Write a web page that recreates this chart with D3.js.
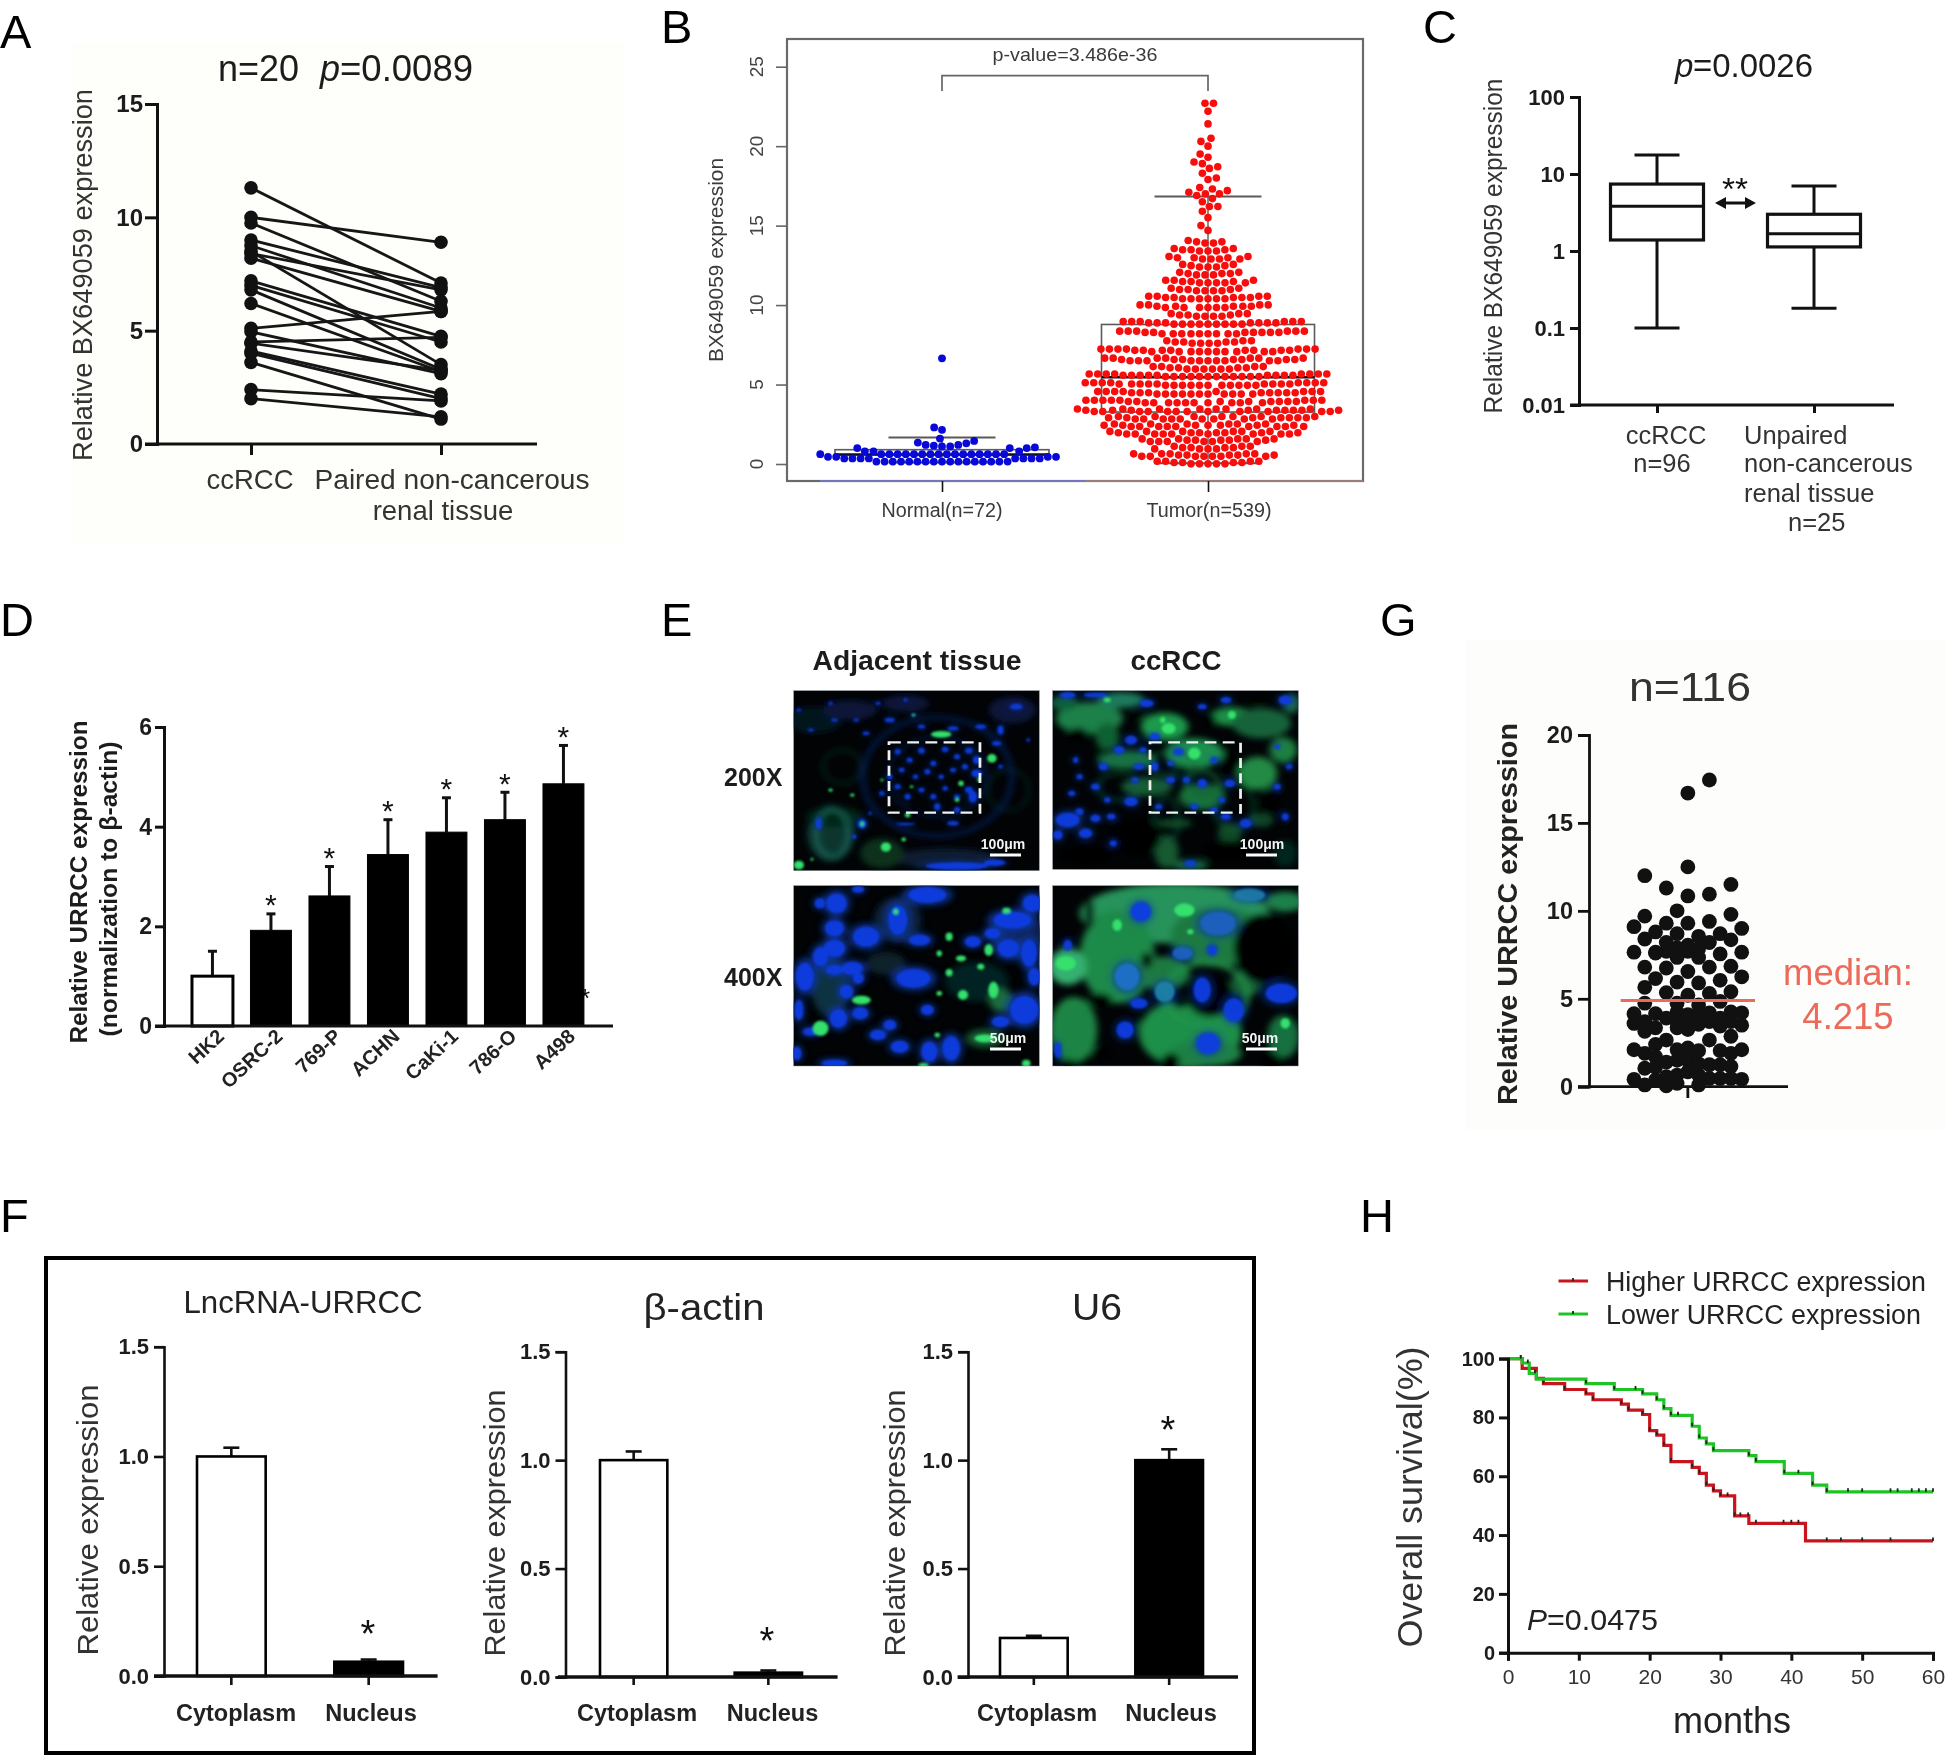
<!DOCTYPE html>
<html><head><meta charset="utf-8">
<style>html,body{margin:0;padding:0;background:#fff}svg{display:block;filter:blur(0.45px)}text{font-family:"Liberation Sans",Arial,sans-serif}</style>
<script src="https://cdnjs.cloudflare.com/ajax/libs/d3/7.8.5/d3.min.js"></script>
</head><body><svg id="c" width="1945" height="1755"></svg>
<script>
// ---------- Panel A
const aCats=["ccRCC","Paired"];
const aTumor=[11.3,10.0,9.75,9.0,8.75,8.5,8.4,8.2,7.2,7.0,6.8,6.2,5.1,4.95,4.5,4.45,4.1,4.0,3.6,2.4,2.0];
const aNormal=[7.1,8.9,6.3,6.9,6.0,3.5,6.8,5.85,4.75,4.5,3.3,3.2,5.85,3.1,4.7,3.25,2.2,2.0,1.1,1.9,1.2];
// ---------- Panel B (dot counts read row by row)
const bNormalLevels=[0.15,0.35,0.45,0.62,0.8,1.0,1.05,1.1,1.15,1.2,1.3,1.35,1.45,1.6,2.15,2.3,6.65];
const bNormalCounts=[17,8,4,17,3,3,1,2,1,2,1,1,1,1,1,1,1];
const bTumorLevels=[0.01,0.09,0.17, 0.48,0.56,0.64, 0.95,1.03,1.11, 1.42,1.5,1.58, 1.89,1.97,2.05, 2.36,2.44,2.52, 2.83,2.91,2.99, 3.3,3.38,3.46, 3.85,3.93,4.01, 4.4,4.48,4.56, 4.95,5.03,5.11, 5.5,5.58,5.66, 5.97,6.05,6.13, 6.5,6.58,6.66, 7.07,7.15,7.23, 7.6,7.68,7.76, 8.2,8.28,8.36, 8.8,8.88,8.96, 9.3,9.38,9.46, 9.85,9.93,10.01, 10.4,10.48,10.56, 10.9,10.98,11.06, 11.4,11.48,11.56, 11.9,11.98,12.06, 12.4,12.48,12.56, 12.9,12.98,13.06, 13.4,13.48,13.56, 13.9,13.98,14.06, 14.7,15.0,15.5,15.9,16.2,16.5,16.7,16.9,17.0,17.1,17.2,17.3,17.4,17.9,18.0,18.3,18.6,18.7,18.9,19.0,19.3,19.5,20.0,20.3,20.5,21.4,22.2,22.7];
const bTumorCounts=[5,4,4, 7,5,5, 4,4,3, 6,5,5, 9,7,6, 9,7,6, 9,7,7, 12,9,8, 10,8,8, 11,8,8, 11,9,8, 12,9,8, 6,4,4, 10,7,7, 10,8,7, 4,4,3, 9,7,6, 9,7,6, 4,3,3, 6,5,4, 6,5,4, 4,3,2, 5,3,3, 3,3,2, 3,2,2, 4,3,2, 3,3,2, 2,2,1, 1,1,1,1,2,1,1,1,2,1,1,1,1,1,1,1,1,1,1,1,1,1,1,1,1,1,1,2];
const bBoxes=[{q1:0.58,med:0.6,q3:0.9,lo:0.1,hi:1.67},{q1:3.27,med:5.46,q3:8.78,lo:0.04,hi:16.84}];
const bCats=["Normal(n=72)","Tumor(n=539)"];
// ---------- Panel C
const cCats=["ccRCC","Unpaired"];
const cBoxes=[{q1:1.39,med:3.8,q3:7.4,lo:0.1,hi:17.6},{q1:1.13,med:1.67,q3:3.0,lo:0.18,hi:7}];
const cTicks=[0.01,0.1,1,10,100];
// ---------- Panel D
const dCats=["HK2","OSRC-2","769-P","ACHN","CaKi-1","786-O","A498"];
const dVals=[1.0,1.92,2.61,3.44,3.89,4.14,4.86];
const dErrTop=[1.5,2.25,3.2,4.14,4.58,4.69,5.63];
// ---------- Panel F
const fCats=["Cytoplasm","Nucleus"];
const fVals=[[1.0,0.065],[1.0,0.02],[0.18,1.0]];
const fErrTop=[[1.04,0.075],[1.04,0.03],[0.19,1.05]];
const fTitles=["LncRNA-URRCC","β-actin","U6"];
// ---------- Panel G: value and column index of each dot
const gValues=[17.44,16.7,12.5,12.0,11.5,11.3,10.95,10.85,10.0,9.8,9.7,9.4,9.3,9.3,9.1,9.0,8.8,8.7,8.7,8.55,8.4,8.35,8.2,8.2,8.05,7.9,7.85,7.65,7.65,7.7,7.65,7.55,7.45,7.35,7.6,7.7,6.85,6.8,6.75,6.8,7.35,6.55,6.25,6.15,5.95,5.9,6.05,5.65,5.35,5.2,5.3,5.4,4.75,4.75,4.65,4.85,4.15,4.15,4.1,4.2,4.2,4.25,4.25,3.6,3.7,3.9,3.7,3.9,4.1,3.7,3.9,3.7,3.15,3.35,3.35,3.25,3.55,3.45,3.5,2.87,2.65,2.65,2.4,2.2,2.1,2.1,2.1,2.05,2.05,1.9,1.9,1.7,1.65,1.05,1.1,1.4,1.5,1.5,1.3,1.25,1.25,1.15,0.42,0.42,0.38,0.57,0.66,0.85,0.66,0.47,0.47,0.47,0.1,0.05,0.19,0.1];
const gSlots=[2,0,0,-4,4,-2,2,0,-1,4,-4,2,-2,0,-5,5,-3,3,-1,1,-4,4,-2,2,0,-1,1,-5,5,-2,-3,3,-1,1,-3,0,4,-4,-2,2,-1,0,5,-3,-1,1,3,-4,-2,0,2,4,-4,-1,1,3,-5,-3,0,2,5,4,-1,-5,-4,-2,-1,0,1,2,3,4,-4,-3,-1,0,1,3,5,4,2,-2,-3,0,-5,5,-1,1,3,4,-4,-3,0,-4,-3,-2,-1,0,1,2,3,4,-5,5,-3,-2,-1,0,1,2,3,4,-4,-2,-1,1];
const gTicks=[0,5,10,15,20];
// ---------- Panel H: step points [month, % surviving]
const hMonthsHigh=[0,2,4,5,8,11,12,16,17,19,20,21,22,23,26,27,28,29,30,32,34,42,60];
const hSurvHigh=[100,96.7,93.3,91.5,89.5,88,86,84.5,82.5,81,75.5,74,70.5,65,63,61,57,55,53.3,46.5,44,38,38];
const hMonthsLow=[0,2,3,4,11,15,19,21,22,23,26,27,28,29,34,35,39,43,45,60];
const hSurvLow=[100,98.5,95,93,91.5,89.5,88,86,83,80.7,77,73,71,68.7,67,65,61,57,54.7,54.7];
const hCensorHigh=[1.8,5,8,11,12,16,17,19,20,21,22,23,26,27,28,29,30,31,32,32.8,33.9,35,38.9,40,41,45,47,50,54,60];
const hCensorLow=[1.8,2.8,3.8,11,15,18,19,21,22,23,24,26,27,28,29,34,35,39,41,43,45,48,50,54,55,57,58,59,60];

const svg=d3.select("#c");
const INK="#1c1c1c", BLK="#111";
function T(x,y,s,o={}){
  const e=svg.append("text").attr("x",x).attr("y",y).text(s)
    .attr("font-size",o.size||20).attr("fill",o.fill||INK)
    .attr("text-anchor",o.anchor||"start");
  if(o.weight)e.attr("font-weight",o.weight);
  if(o.italic)e.attr("font-style","italic");
  if(o.rot!=null)e.attr("transform",`rotate(${o.rot} ${x} ${y})`);
  if(o.len){e.attr("textLength",o.len).attr("lengthAdjust","spacingAndGlyphs");}
  return e;
}
function L(x1,y1,x2,y2,w=3,c=BLK){return svg.append("line").attr("x1",x1).attr("y1",y1).attr("x2",x2).attr("y2",y2).attr("stroke",c).attr("stroke-width",w);}
function yAxis(x,scale,vals,o={}){
  const ax=d3.axisLeft(scale).tickValues(vals).tickSize(o.tick||10).tickPadding(o.pad||4).tickFormat(o.fmt||(d=>d));
  const g=svg.append("g").attr("transform",`translate(${x},0)`).call(ax);
  g.selectAll("path").attr("stroke",o.color||BLK).attr("stroke-width",o.w||3);
  g.selectAll("line").attr("stroke",o.color||BLK).attr("stroke-width",o.w||3);
  g.selectAll("text").attr("font-size",o.size||22).attr("font-weight",o.weight||"bold").attr("fill",o.fill||INK)
    .attr("font-family",'"Liberation Sans",Arial,sans-serif');
  return g;
}
function xTicks(y,scale,cats,len,w=3){
  const g=svg.append("g").attr("transform",`translate(0,${y})`).call(d3.axisBottom(scale).tickValues(cats).tickSize(len).tickFormat(""));
  g.select("path").remove();
  g.selectAll("line").attr("stroke",BLK).attr("stroke-width",w);
}
// faint paper tint behind the two raster panels
svg.append("rect").attr("x",71).attr("y",43).attr("width",554).attr("height",503).attr("fill","#fefefb");
svg.append("rect").attr("x",1466).attr("y",640).attr("width",479).attr("height",490).attr("fill","#fdfdfb");

// panel letters
[["A",0,48],["B",661,43],["C",1423,43],["D",0,636],["E",661,636],["G",1380,636],["F",0,1232],["H",1360,1232]]
 .forEach(d=>T(d[1],d[2],d[0],{size:47,fill:"#000"}));

// ===== A
(function(){
  const y=d3.scaleLinear().domain([0,15]).range([444,104]);
  const x=d3.scalePoint().domain(aCats).range([251,441]);
  aTumor.forEach((v,i)=>L(x("ccRCC"),y(v),x("Paired"),y(aNormal[i]),2.8,"#161616"));
  aCats.forEach((c,k)=>{
    svg.append("g").selectAll("circle").data(k?aNormal:aTumor).join("circle")
      .attr("cx",x(c)).attr("cy",d=>y(d)).attr("r",6.8).attr("fill","#111");
  });
  yAxis(157,y,[0,5,10,15],{tick:12,size:24,pad:2,w:3});
  L(145,444,537,444,3);
  xTicks(444,x,aCats,11);
  T(218,81,"n=20",{size:36});
  T(320,81,"p",{size:36,italic:true});
  T(340,81,"=0.0089",{size:36,len:133});
  T(92,275,"Relative BX649059 expression",{size:27,anchor:"middle",rot:-90,len:372,fill:"#333"});
  T(250,489,"ccRCC",{size:27.5,anchor:"middle",fill:"#333"});
  T(452,489,"Paired non-cancerous",{size:27,anchor:"middle",len:275,fill:"#333"});
  T(443,520,"renal tissue",{size:27.5,anchor:"middle",fill:"#333"});
})();

// ===== B
function swarm(vals,d,y,cx){
  const placed=[];let flip=1;
  vals.slice().sort((a,b)=>a-b).forEach(v=>{
    const py=y(v),near=placed.filter(p=>Math.abs(p.y-py)<d);
    const cand=[0];
    near.forEach(p=>{const dx=Math.sqrt(d*d-(p.y-py)*(p.y-py));cand.push(p.dx+dx,p.dx-dx);});
    const ok=cand.filter(c=>near.every(p=>(p.dx-c)*(p.dx-c)+(p.y-py)*(p.y-py)>=d*d-1e-6));
    ok.sort((a,b)=>(Math.abs(a)-Math.abs(b))||((b-a)*flip));
    flip=-flip;
    placed.push({dx:ok[0],y:py,x:cx+ok[0],v});
  });
  return placed;
}
(function(){
  const y=d3.scaleLinear().domain([0,25]).range([464,66.7]);
  const x=d3.scalePoint().domain(bCats).range([942,1208]);
  const GR="#5a5a5a";
  svg.append("rect").attr("x",787).attr("y",39).attr("width",576).attr("height",442).attr("fill","none").attr("stroke","#6a6a6a").attr("stroke-width",2.2);
  L(820,481,1085,481,1.6,"#7a7ad8");
  L(1085,481,1363,481,1.2,"#c89090");
  const expand=(ls,cs)=>ls.flatMap((l,i)=>d3.range(cs[i]).map(()=>l));
  const widths=[214,213],caps=[107,107];
  bBoxes.forEach((b,i)=>{
    const cx=x(bCats[i]);
    L(cx,y(b.hi),cx,y(b.q3),1.4,GR);L(cx,y(b.q1),cx,y(b.lo),1.4,GR);
    L(cx-caps[i]/2,y(b.hi),cx+caps[i]/2,y(b.hi),2,GR);L(cx-caps[i]/2,y(b.lo),cx+caps[i]/2,y(b.lo),2,GR);
    svg.append("rect").attr("x",cx-widths[i]/2).attr("width",widths[i]).attr("y",y(b.q3)).attr("height",y(b.q1)-y(b.q3)).attr("fill","none").attr("stroke",GR).attr("stroke-width",1.6);
    L(cx-widths[i]/2,y(b.med),cx+widths[i]/2,y(b.med),2.6,"#111");
  });
  const nPts=swarm(expand(bNormalLevels,bNormalCounts),8.2,y,x(bCats[0]));
  svg.append("g").selectAll("circle").data(nPts).join("circle").attr("cx",d=>d.x).attr("cy",d=>d.y).attr("r",3.9).attr("fill","#0808d8");
  const tPts=swarm(expand(bTumorLevels,bTumorCounts),8.5,y,x(bCats[1]));
  svg.append("g").selectAll("circle").data(tPts).join("circle").attr("cx",d=>d.x).attr("cy",d=>d.y).attr("r",3.8).attr("fill","#f80d0d");
  const g=svg.append("g").attr("transform","translate(787,0)").call(d3.axisLeft(y).tickValues([0,5,10,15,20,25]).tickSize(11).tickFormat(""));
  g.select("path").remove();g.selectAll("line").attr("stroke","#666").attr("stroke-width",1.6);
  [0,5,10,15,20,25].forEach(v=>T(763,y(v),v,{size:19,anchor:"middle",rot:-90,fill:"#444"}));
  xTicks(481,x,bCats,11,1.6);
  bCats.forEach((c,i)=>T(x(c)+(i?1:0),517,c,{size:19.5,anchor:"middle",fill:"#3a3a3a",len:i?125:121}));
  T(723,260,"BX649059 expression",{size:21,anchor:"middle",rot:-90,fill:"#3a3a3a",len:204});
  svg.append("path").attr("d",`M${x(bCats[0])},91V75.7H${x(bCats[1])}V91`).attr("fill","none").attr("stroke","#666").attr("stroke-width",1.7);
  T(1075,60.7,"p-value=3.486e-36",{size:18.5,anchor:"middle",fill:"#3a3a3a",len:165});
})();

// ===== C
(function(){
  const y=d3.scaleLog().domain([0.01,100]).range([405,97]);
  const x=d3.scalePoint().domain(cCats).range([1657,1814]);
  yAxis(1579,y,cTicks,{tick:9,size:22,pad:5,fmt:d=>String(d)});
  L(1570,405,1894,405,3);
  xTicks(405,x,cCats,8);
  const bw=93,cap=45;
  cBoxes.forEach((b,i)=>{
    const cx=x(cCats[i]);
    L(cx,y(b.hi),cx,y(b.q3),3);L(cx,y(b.q1),cx,y(b.lo),3);
    L(cx-cap/2,y(b.hi),cx+cap/2,y(b.hi),3);L(cx-cap/2,y(b.lo),cx+cap/2,y(b.lo),3);
    svg.append("rect").attr("x",cx-bw/2).attr("y",y(b.q3)).attr("width",bw).attr("height",y(b.q1)-y(b.q3)).attr("fill","#fff").attr("stroke",BLK).attr("stroke-width",3.2);
    L(cx-bw/2,y(b.med),cx+bw/2,y(b.med),3);
  });
  L(1722,203,1749,203,3);
  svg.append("path").attr("d","M1715,203l11,-6v12zM1756,203l-11,-6v12z").attr("fill",BLK);
  T(1735,200,"**",{size:32,anchor:"middle",fill:"#111",len:26});
  T(1675,77,"p",{size:33,italic:true});
  T(1693,77,"=0.0026",{size:33,len:120});
  T(1502,246,"Relative BX649059 expression",{size:25,anchor:"middle",rot:-90,len:335,fill:"#333"});
  T(1666,444,"ccRCC",{size:25.5,anchor:"middle",fill:"#333"});
  T(1662,472,"n=96",{size:25.5,anchor:"middle",fill:"#333"});
  T(1744,444,"Unpaired",{size:25.5,fill:"#333"});
  T(1744,472,"non-cancerous",{size:25.5,fill:"#333"});
  T(1744,502,"renal tissue",{size:25.5,fill:"#333"});
  T(1788,531,"n=25",{size:25.5,fill:"#333"});
})();

// ===== D
(function(){
  const y=d3.scaleLinear().domain([0,6]).range([1026,727]);
  const x=d3.scaleBand().domain(dCats).range([183.2,592.7]).paddingInner(0.3).paddingOuter(0.15);
  T(585,1007,"*",{size:26,anchor:"middle",fill:"#111"});
  dCats.forEach((c,i)=>{
    const cx=x(c)+x.bandwidth()/2;
    L(cx,y(dVals[i]),cx,y(dErrTop[i]),3);
    L(cx-4.5,y(dErrTop[i]),cx+4.5,y(dErrTop[i]),3);
    svg.append("rect").attr("x",x(c)).attr("y",y(dVals[i])).attr("width",x.bandwidth()).attr("height",y(0)-y(dVals[i]))
      .attr("fill",i?"#000":"#fff").attr("stroke","#000").attr("stroke-width",i?1:3);
    if(i)T(cx,y(dErrTop[i])+1.5,"*",{size:30,anchor:"middle",fill:"#111"});
    T(cx+13,1038,c,{size:20,anchor:"end",weight:"bold",rot:-43,fill:"#222"});
  });
  yAxis(164,y,[0,2,4,6],{tick:9,size:23,pad:3});
  L(155,1026,613,1026,3);
  T(87,882,"Relative URRCC expression",{size:24.5,anchor:"middle",rot:-90,weight:"bold",len:323});
  T(117,889,"(normalization to β-actin)",{size:24,anchor:"middle",rot:-90,weight:"bold",len:295});
})();

// ===== E  micrographs: blob lists are [cx,cy,rx,ry,colour] in a local drawing frame
const ePanels=[
 {x:237,y:212,w:621,h:540,halo:0.35,
  dim:[[330,640,60,85,"#08342e"],[290,300,70,40,"#06121f"],[620,715,130,30,"#081f30"],[460,700,55,45,"#08301c"],[340,590,70,30,"#062818"],[790,270,60,40,"#07143a"],[380,270,70,30,"#071238"],[520,250,60,25,"#07123a"]],
  rings:[[600,470,188,178,"#0d2c80",7],[600,470,125,120,"#0a1f60",5],[360,440,48,50,"#0b3320",6],[335,640,42,72,"#1c6a5c",9],[780,510,52,62,"#092c20",6]],
  blue:[[500,395,8,8],[530,420,8,8],[560,392,9,9],[590,430,8,8],[620,388,9,8],[650,410,8,8],[680,392,10,9],[510,450,8,7],[545,470,7,7],[575,455,8,8],[610,470,7,7],[640,450,8,7],[670,440,8,8],[700,420,10,12],[500,500,8,8],[525,530,8,9],[560,510,8,7],[590,530,8,8],[620,505,7,7],[650,530,8,7],[680,510,10,10],[600,560,8,11],[650,570,8,9],[480,470,7,8],[460,520,7,7],[640,325,14,7],[710,320,14,7],[560,320,10,6],[750,370,12,7],[700,460,14,12],[690,530,11,18],[640,610,15,7],[520,612,25,4],[760,330,8,14],[800,260,16,9],[480,300,13,7],[420,340,9,6],[395,300,7,5],[340,300,8,5],[280,330,7,5],[250,270,6,5],[330,250,6,5],[450,250,7,5],[520,240,6,5],[540,285,6,5],[410,612,12,15],[300,610,8,18],[390,650,6,7],[650,738,80,12],[745,728,28,10],[430,580,5,5],[760,440,6,6],[830,360,5,5]],
  green:[[610,343,26,10],[738,415,12,13],[470,681,13,14],[410,612,5,8],[250,735,13,13],[660,490,7,8],[525,585,7,7],[330,510,6,5],[385,525,6,5],[515,658,6,6],[283,718,4,4],[540,285,4,4],[460,480,4,4],[535,500,5,4],[705,480,4,6],[650,540,6,6]]},
 {x:892,y:212,w:621,h:536,halo:0.6,
  dim:[[985,295,85,48,"#1d8048"],[1175,320,60,42,"#1f9a4c"],[1345,290,55,28,"#1b8f46"],[1250,400,75,45,"#1e8f4e"],[1410,460,50,50,"#218a45"],[1270,530,60,40,"#186a36"],[1475,390,35,38,"#1c8040"],[1180,695,30,50,"#135a30"],[1240,735,45,18,"#17653a"],[1080,420,75,28,"#197240"],[1065,240,60,24,"#1c7a5c"],[1420,310,75,45,"#15643a"],[1130,500,65,28,"#135c34"],[1030,350,30,40,"#116030"],[1200,610,45,14,"#0f4a28"],[1340,640,30,32,"#0e4a28"],[1420,600,30,22,"#0d4526"],[1495,250,22,30,"#1a6a50"],[920,250,35,22,"#10603a"],[1480,700,30,40,"#06261c"]],
  rings:[[1270,500,42,47,"#17803c",8],[1350,560,50,70,"#116030",6],[1190,430,60,35,"#146a3a",6],[1060,500,55,40,"#10602f",6],[1180,600,30,70,"#105030",7]],
  black:[[1290,300,16,18],[1110,285,20,12],[1340,430,22,40],[955,345,28,22],[1410,240,22,15],[1445,545,24,42],[1100,650,65,60],[975,705,70,30],[1335,695,65,32],[1215,450,20,14],[1130,365,10,14],[1010,395,10,12]],
  blue:[[930,225,20,9],[1000,225,30,7],[1130,250,17,11],[1090,360,15,13],[1060,390,13,11],[1110,440,13,9],[1020,440,11,11],[950,420,7,9],[960,470,8,8],[1000,500,11,9],[940,520,9,8],[1090,545,17,13],[930,600,30,22],[975,640,17,14],[1000,595,13,11],[1040,590,11,9],[1045,670,9,9],[1150,440,9,13],[1190,480,11,9],[1230,480,9,9],[1270,490,11,13],[1340,490,13,11],[1300,420,9,9],[1210,395,13,11],[1150,350,13,11],[1380,610,15,13],[1330,590,13,9],[1480,590,9,11],[1490,440,8,8],[1460,380,7,7],[1250,560,9,9],[1300,570,9,8],[1240,730,14,9],[1330,240,14,9],[1480,240,17,13],[1270,260,11,8],[1160,560,9,8],[1460,500,9,9],[1100,480,8,8],[905,645,12,14],[960,575,10,10],[1030,540,8,8],[1120,390,9,8],[1190,430,8,8],[1320,540,8,8]],
  green:[[1185,325,18,16],[1345,285,10,12],[1250,400,16,18],[1030,240,9,7],[1170,300,7,9]]},
 {x:237,y:797,w:621,h:541,halo:0.8,
  dim:[[330,1100,50,90,"#0a3040"],[700,1085,80,60,"#062420"],[760,1140,30,35,"#1a6a40"],[720,1255,48,28,"#125a30"],[470,1030,50,35,"#08202a"],[500,900,60,70,"#08203a"],[800,950,70,70,"#0a2050"]],
  rings:[],
  blue:[[345,850,26,30],[303,850,13,15],[575,825,48,24],[400,808,15,10],[500,900,24,44],[340,925,24,24],[420,950,33,30],[555,960,27,16],[690,965,20,16],[340,985,27,26],[305,1010,19,29],[780,985,27,27],[790,900,48,26],[740,940,20,16],[840,850,24,26],[265,1070,23,42],[340,1050,22,15],[385,1045,27,20],[540,1075,43,28],[400,1075,14,16],[370,1115,17,21],[832,1000,20,40],[820,1170,36,42],[350,1195,22,28],[405,1180,20,18],[480,1215,16,15],[250,1170,11,30],[505,1280,22,18],[450,1245,20,15],[580,1295,20,30],[635,1285,22,36],[340,1330,32,11],[245,1300,11,20],[575,1170,16,15],[760,1205,22,16],[280,1235,20,12],[845,1070,15,26]],
  green:[[730,990,11,18],[742,1110,13,25],[408,1140,24,13],[305,1225,20,23],[660,1015,13,9],[775,872,11,9],[630,950,9,13],[605,1000,7,9],[630,1058,9,11],[710,1040,9,9],[665,1125,13,15],[720,1255,26,12],[600,1245,7,7],[565,1335,14,6],[825,1330,11,11],[495,875,7,9],[605,1120,7,7]]},
 {x:892,y:797,w:621,h:541,halo:0.5,
  dim:[[1200,880,240,90,"#25935a"],[1055,1010,95,140,"#1d8a48"],[1240,1240,130,105,"#1f8f48"],[945,1230,60,100,"#1c8544"],[1310,950,120,90,"#1a7a40"],[930,1040,48,55,"#36b070"],[1475,1250,40,65,"#157040"],[1170,1060,70,50,"#1a7a40"],[1380,1090,38,40,"#146035"],[1480,845,50,30,"#1c8048"],[1280,1300,90,40,"#1a8044"]],
  rings:[[1280,1125,105,95,"#23944c",12]],
  black:[[1425,985,75,105],[985,880,11,46],[1130,1020,14,24],[1215,1150,20,14],[925,955,18,18],[1010,1140,32,20],[1290,1130,60,60],[1015,1300,28,20],[930,1330,25,12],[1445,1325,28,25],[1190,1325,24,25],[1100,1210,14,14]],
  blue:[[1115,875,26,30],[1310,910,45,36,"#1a60c0"],[1080,1070,31,40,"#1d70c8"],[1175,1115,26,31,"#1f80a8"],[1270,1110,22,38],[1350,1170,26,36],[1110,1150,22,16],[1285,1270,30,32],[1470,1120,40,30],[1390,825,40,20,"#1a78a8"],[1220,1000,26,20,"#1a60c0"],[1295,990,13,16],[1075,1230,22,26],[930,975,11,16],[905,1290,9,24]],
  green:[[1225,870,26,20],[1240,935,8,8],[925,1030,26,22],[1055,915,12,18],[1480,1210,12,16]]}
];
(function(){
  const defs=svg.append("defs");
  [["b1",3],["b2",9]].forEach(f=>defs.append("filter").attr("id",f[0]).attr("x","-30%").attr("y","-30%").attr("width","160%").attr("height","160%")
    .append("feGaussianBlur").attr("stdDeviation",f[1]));
  const root=svg.append("g").attr("transform",`translate(700,620) scale(${1/2.529},${1/3})`);
  const ell=(g,a,col,op)=>g.selectAll(null).data(a).join("ellipse").attr("cx",d=>d[0]).attr("cy",d=>d[1]).attr("rx",d=>d[2]).attr("ry",d=>d[3]).attr("fill",d=>d[4]||col).attr("opacity",op||1);
  ePanels.forEach((p,i)=>{
    defs.append("clipPath").attr("id","ec"+i).append("rect").attr("x",p.x).attr("y",p.y).attr("width",p.w).attr("height",p.h);
    root.append("rect").attr("x",p.x).attr("y",p.y).attr("width",p.w).attr("height",p.h).attr("fill","#010305").attr("stroke","#8a9098").attr("stroke-width",1.5);
    const g=root.append("g").attr("clip-path",`url(#ec${i})`);
    const h=g.append("g").attr("filter","url(#b2)");
    ell(h,p.dim,"#1a7a40");
    h.selectAll(null).data(p.rings).join("ellipse").attr("cx",d=>d[0]).attr("cy",d=>d[1]).attr("rx",d=>d[2]).attr("ry",d=>d[3]).attr("fill","none").attr("stroke",d=>d[4]).attr("stroke-width",d=>d[5]);
    if(p.black)ell(h,p.black,"#010305");
    // soft glow round the nuclei
    h.selectAll(null).data(p.blue).join("ellipse").attr("cx",d=>d[0]).attr("cy",d=>d[1]).attr("rx",d=>d[2]*1.35).attr("ry",d=>d[3]*1.35).attr("fill","#0c3aa0").attr("opacity",p.halo);
    const t=g.append("g").attr("filter","url(#b1)");
    ell(t,p.blue,"#0c3ce0",.95);
    ell(t,p.green,"#34e06c");
  });
  // dashed selection boxes
  [[478,367,230,211],[1138,367,229,211]].forEach(r=>root.append("rect").attr("x",r[0]).attr("y",r[1]).attr("width",r[2]).attr("height",r[3]).attr("fill","none").attr("stroke","#eef2ee").attr("stroke-width",7).attr("stroke-dasharray","30 16"));
  // scale bars
  [[1003,849,990,1021,855,"100μm"],[1262,849,1246,1277,855,"100μm"],[1008,1043,990,1021,1049,"50μm"],[1260,1043,1246,1277,1049,"50μm"]].forEach(s=>{
    T(s[0],s[1],s[5],{size:14,anchor:"middle",fill:"#f4f4f4",weight:"bold"});
    L(s[2],s[4],s[3],s[4],3,"#fff");
  });
  T(917,670,"Adjacent tissue",{size:28,anchor:"middle",weight:"bold",len:209});
  T(1176,670,"ccRCC",{size:28,anchor:"middle",weight:"bold",len:91});
  T(724,786,"200X",{size:25,weight:"bold"});
  T(724,986,"400X",{size:25,weight:"bold"});
})();

// ===== F
(function(){
  svg.append("rect").attr("x",46).attr("y",1258).attr("width",1208).attr("height",495).attr("fill","#fff").attr("stroke","#000").attr("stroke-width",4);
  const P=[
   {ax:164,y0:1676,y15:1346.7,r:437.6,b0:197,bw:206,lt:154,lab:[236,371],titleX:303,titleY:1313,tsize:31,tlen:239,ylx:98,yly:1520,yll:271,sx:368,sy:1647},
   {ax:565.5,y0:1677,y15:1351.7,r:837.6,b0:600,bw:202,lt:558,lab:[637,772.5],titleX:704,titleY:1320,tsize:37,tlen:121,ylx:505,yly:1523,yll:267,sx:767,sy:1654},
   {ax:968,y0:1677,y15:1351.7,r:1238,b0:1000,bw:203,lt:957.6,lab:[1037,1171],titleX:1097,titleY:1320,tsize:37,tlen:50,ylx:905,yly:1523,yll:267,sx:1168,sy:1443}
  ];
  P.forEach((p,k)=>{
    const y=d3.scaleLinear().domain([0,1.5]).range([p.y0,p.y15]);
    const x=d3.scaleBand().domain(fCats).range([p.b0,p.b0+p.bw]).paddingInner(0.5);
    fCats.forEach((c,i)=>{
      const cx=x(c)+x.bandwidth()/2;
      L(cx,y(fVals[k][i]),cx,y(fErrTop[k][i]),2.6);
      L(cx-8,y(fErrTop[k][i]),cx+8,y(fErrTop[k][i]),2.6);
      svg.append("rect").attr("x",x(c)).attr("y",y(fVals[k][i])).attr("width",x.bandwidth()).attr("height",y(0)-y(fVals[k][i]))
       .attr("fill",i==1?"#000":"#fff").attr("stroke","#000").attr("stroke-width",2.6);
      T(p.lab[i],1721,c,{size:23.5,anchor:"middle",weight:"bold",fill:"#222"});
      L(cx,y(0),cx,1685,2.6);
    });
    yAxis(p.ax,y,[0,0.5,1,1.5],{tick:10,size:22,pad:5,fmt:d3.format(".1f"),w:2.6});
    L(p.lt,y(0),p.r,y(0),3.4);
    T(p.sx,p.sy,"*",{size:38,anchor:"middle",fill:"#111"});
    T(p.titleX,p.titleY,fTitles[k],{size:p.tsize,anchor:"middle",len:p.tlen,fill:"#222"});
    T(p.ylx,p.yly,"Relative expression",{size:30,anchor:"middle",rot:-90,len:p.yll,fill:"#333"});
  });
})();

// ===== G
(function(){
  const y=d3.scaleLinear().domain([0,20]).range([1086.7,735]);
  const x=d3.scaleLinear().domain([-5,5]).range([1634,1741.7]);
  yAxis(1589,y,gTicks,{tick:11,size:23.5,pad:5,w:2.8});
  L(1578,1086.7,1788,1086.7,2.8);
  L(x(0),1086.7,x(0),1098,2.8);
  svg.append("g").selectAll("circle").data(gValues).join("circle").attr("cx",(d,i)=>x(gSlots[i])).attr("cy",d=>y(d)).attr("r",7.4).attr("fill","#111");
  L(1620.7,y(4.9),1755,y(4.9),3,"#ec6a5a");
  T(1848,985,"median:",{size:36.5,anchor:"middle",fill:"#ec6a5a"});
  T(1848,1029,"4.215",{size:36.5,anchor:"middle",fill:"#ec6a5a"});
  T(1690,701,"n=116",{size:40,anchor:"middle",len:122,fill:"#333"});
  T(1517,914,"Relative URRCC expression",{size:28,anchor:"middle",rot:-90,weight:"bold",len:382,fill:"#222"});
})();

// ===== H
(function(){
  const x=d3.scaleLinear().domain([0,60]).range([1508,1933]);
  const y=d3.scaleLinear().domain([0,100]).range([1652.7,1358.6]);
  const line=d3.line().curve(d3.curveStepAfter).x(d=>x(d[0])).y(d=>y(d[1]));
  const stepAt=(ms,ss,m)=>{let v=ss[0];ms.forEach((t,i)=>{if(t<=m)v=ss[i];});return v;};
  [[hMonthsHigh,hSurvHigh,"#c8141c",hCensorHigh],[hMonthsLow,hSurvLow,"#1ec425",hCensorLow]].forEach(s=>{
    const pts=s[0].map((m,i)=>[m,s[1][i]]);
    svg.append("path").attr("d",line(pts)).attr("fill","none").attr("stroke",s[2]).attr("stroke-width",3.2);
    svg.append("g").selectAll("line").data(s[3]).join("line").attr("x1",d=>x(d)).attr("x2",d=>x(d))
      .attr("y1",d=>y(stepAt(s[0],s[1],d))-3.5).attr("y2",d=>y(stepAt(s[0],s[1],d))).attr("stroke","#222").attr("stroke-width",1.8);
  });
  yAxis(1508,y,[0,20,40,60,80,100],{tick:9,size:20,pad:4,w:3});
  const ax=svg.append("g").attr("transform","translate(0,1652.7)").call(d3.axisBottom(x).tickValues([0,10,20,30,40,50,60]).tickSize(8).tickPadding(8));
  ax.selectAll("path,line").attr("stroke",BLK).attr("stroke-width",3);
  ax.selectAll("text").attr("font-size",21).attr("fill","#333").attr("font-family",'"Liberation Sans",Arial,sans-serif');
  T(1422,1497,"Overall survival(%)",{size:35,anchor:"middle",rot:-90,len:301,fill:"#333"});
  T(1732,1733,"months",{size:36,anchor:"middle",fill:"#222"});
  T(1527,1630,"P",{size:30,italic:true,fill:"#222"});
  T(1547,1630,"=0.0475",{size:30,len:111,fill:"#222"});
  [[1281,"#c8141c","Higher URRCC expression",1291,320],[1314,"#1ec425","Lower URRCC expression",1324,315]].forEach(l=>{
    L(1558.5,l[0],1588,l[0],3,l[1]);L(1573,l[0]-3,1573,l[0],1.8,"#222");
    T(1606,l[3],l[2],{size:27,len:l[4],fill:"#222"});
  });
})();
</script></body></html>
